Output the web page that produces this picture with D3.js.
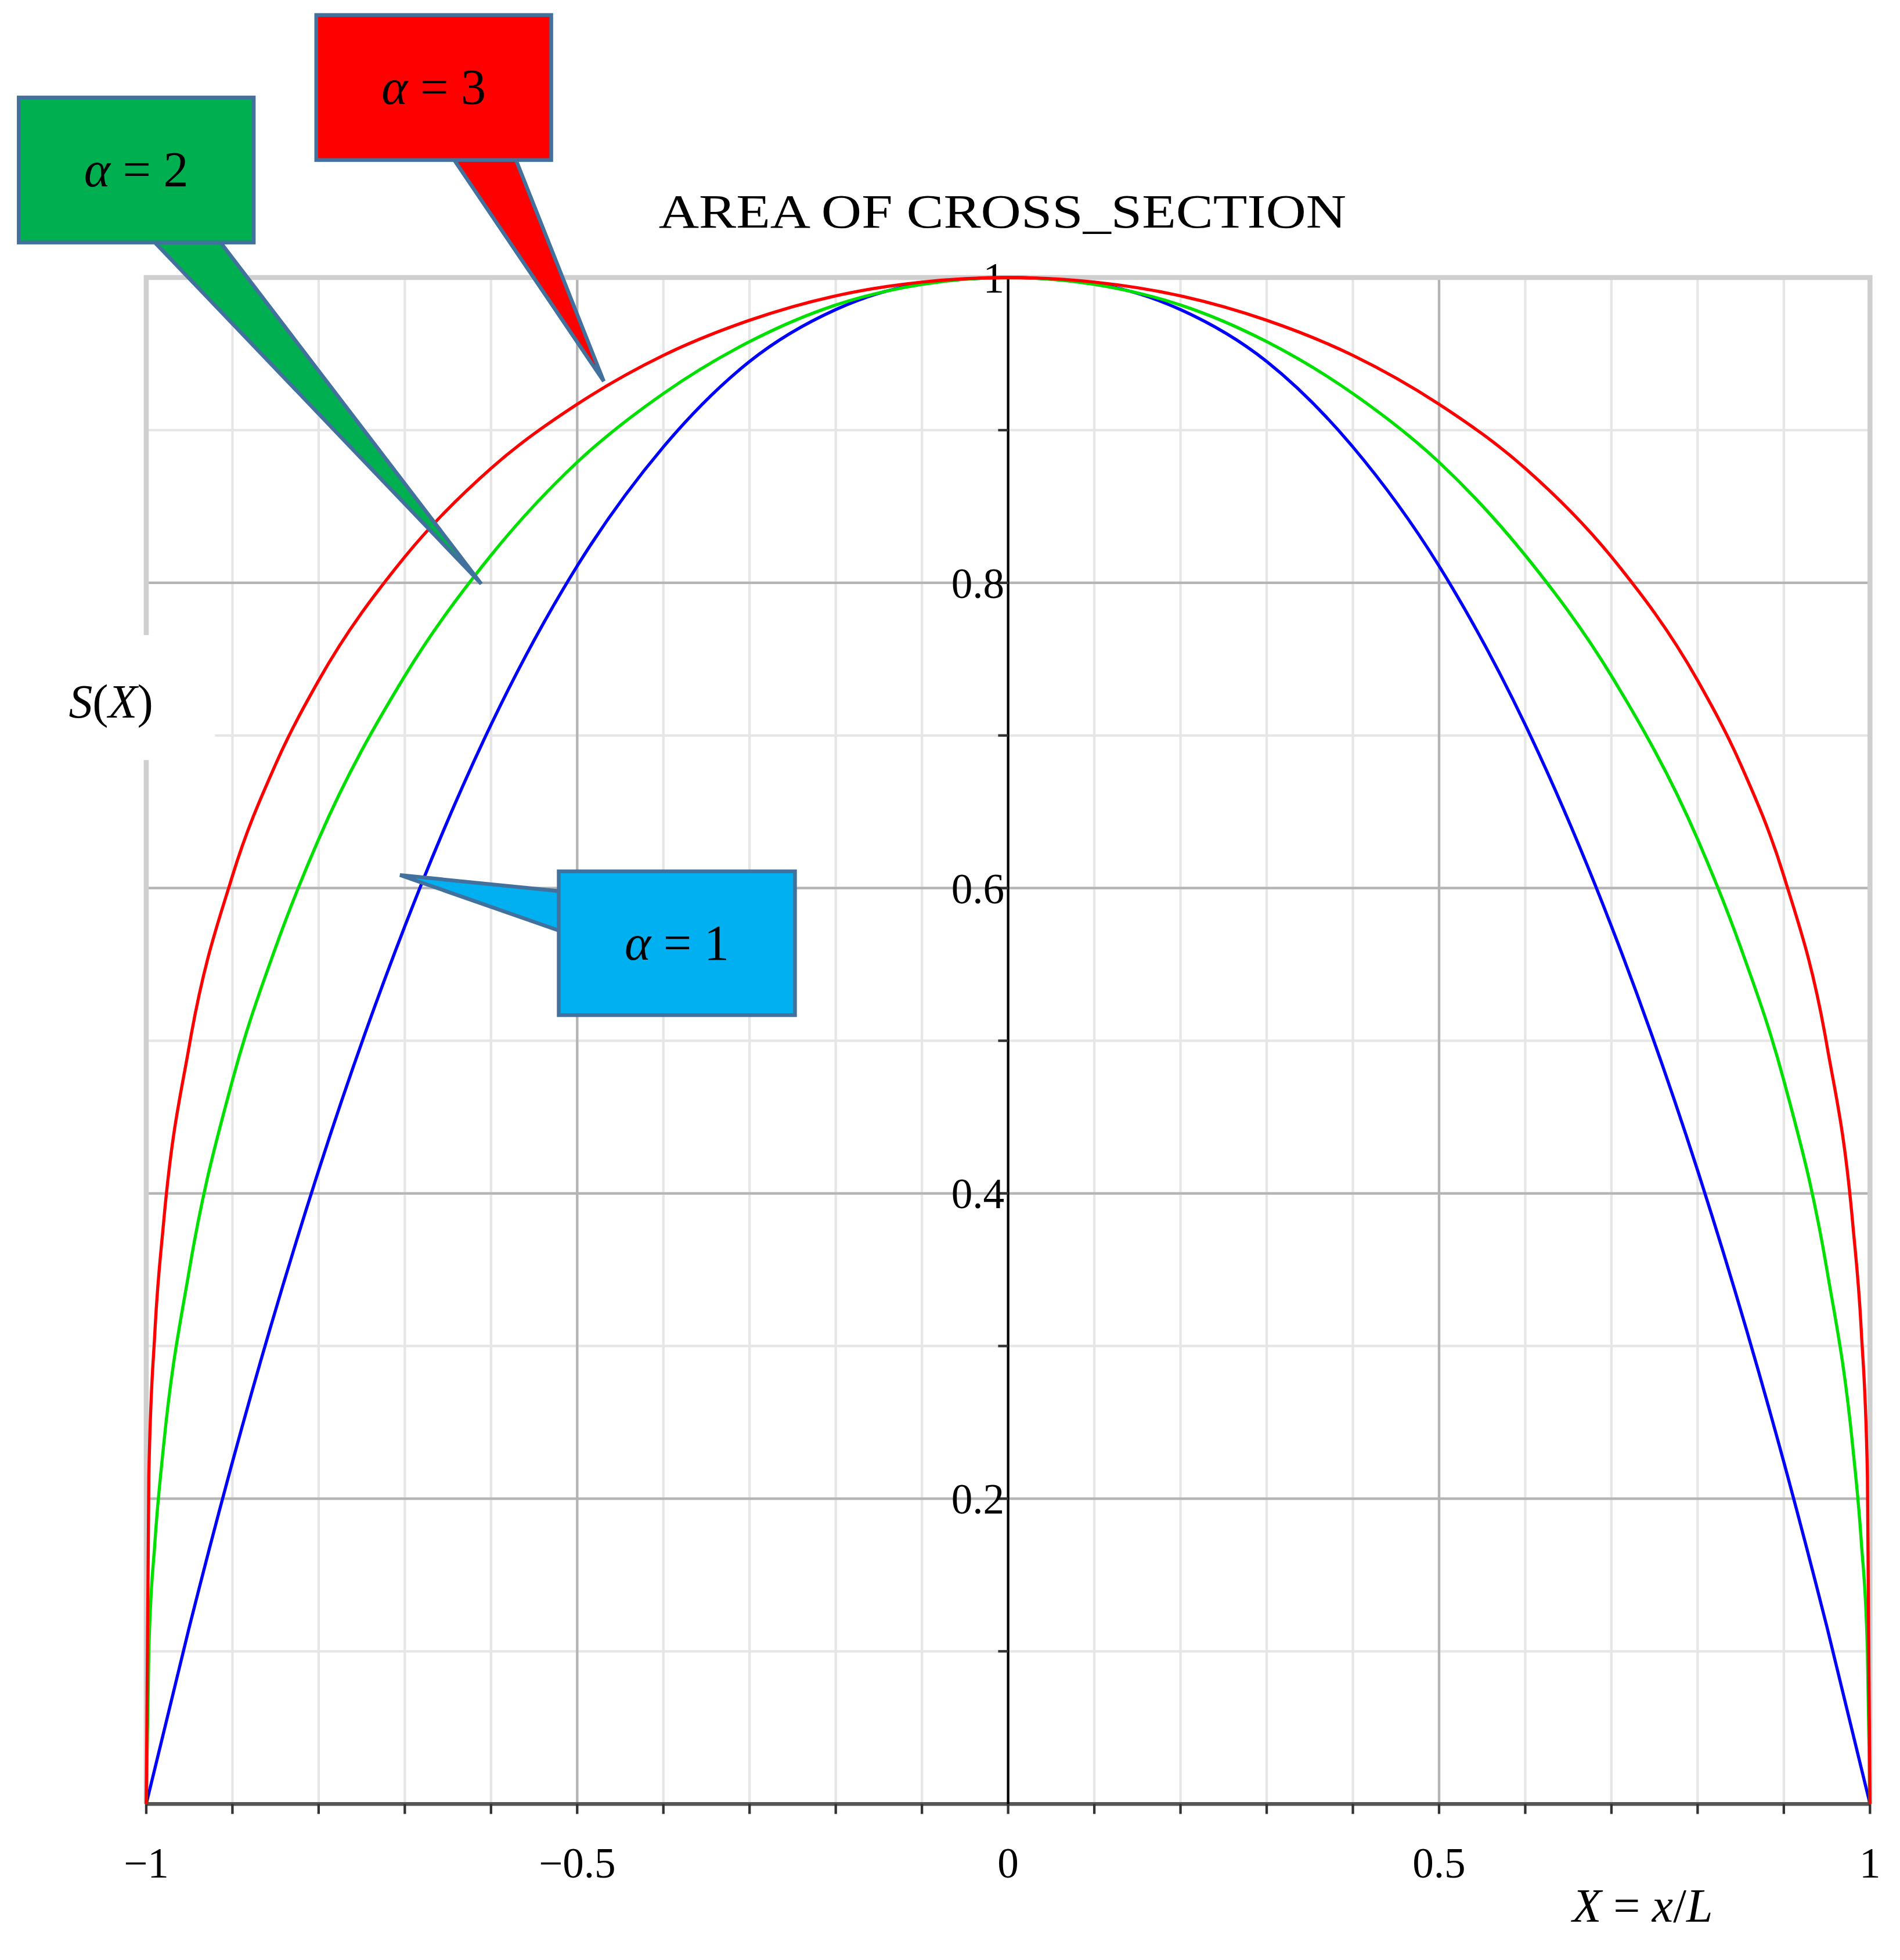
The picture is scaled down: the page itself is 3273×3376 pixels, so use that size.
<!DOCTYPE html>
<html><head><meta charset="utf-8">
<script src="https://cdn.jsdelivr.net/npm/d3@7"></script>
<style>body{margin:0;background:#fff}</style></head>
<body><svg id="c" width="3273" height="3376"></svg>
<script>
const redX=[-1,-0.997,-0.99,-0.98,-0.95,-0.9,-0.85,-0.8,-0.7,-0.6,-0.5,-0.4,-0.3,-0.2,-0.1,0,0.1,0.2,0.3,0.4,0.5,0.6,0.7,0.8,0.85,0.9,0.95,0.98,0.99,0.997,1];
const redY=[0,0.215,0.309,0.38,0.497,0.608,0.681,0.736,0.817,0.875,0.917,0.949,0.972,0.988,0.997,1,0.997,0.988,0.972,0.949,0.917,0.875,0.817,0.736,0.681,0.608,0.497,0.38,0.309,0.215,0];
const greenX=[-1,-0.997,-0.99,-0.98,-0.95,-0.9,-0.85,-0.8,-0.7,-0.6,-0.5,-0.4,-0.3,-0.2,-0.1,0,0.1,0.2,0.3,0.4,0.5,0.6,0.7,0.8,0.85,0.9,0.95,0.98,0.99,0.997,1];
const greenY=[0,0.1,0.171,0.234,0.35,0.474,0.561,0.632,0.739,0.818,0.879,0.924,0.958,0.982,0.9955,1,0.9955,0.982,0.958,0.924,0.879,0.818,0.739,0.632,0.561,0.474,0.35,0.234,0.171,0.1,0];
const blueX=[-1,-0.95,-0.9,-0.8,-0.7,-0.6,-0.5,-0.4,-0.3,-0.2,-0.1,0,0.1,0.2,0.3,0.4,0.5,0.6,0.7,0.8,0.9,0.95,1];
const blueY=[0,0.116,0.224,0.415,0.575,0.707,0.811,0.889,0.945,0.979,0.996,1,0.996,0.979,0.945,0.889,0.811,0.707,0.575,0.415,0.224,0.116,0];
const yTicks=[0.2,0.4,0.6,0.8,1];
const xTicks=[-1,-0.5,0,0.5,1];
const xLabels=["\u22121","\u22120.5","0","0.5","1"];

const S=3273/1520;
const svg=d3.select("#c");
const g=svg.append("g").attr("transform",`scale(${S})`);
const x=d3.scaleLinear().domain([-1,1]).range([117,1496]);
const y=d3.scaleLinear().domain([0,1]).range([1443,222]);
const serif="'Liberation Serif','Times New Roman',serif";

d3.range(-1,1.001,0.1).forEach(v=>g.append("line").attr("x1",x(v)).attr("x2",x(v)).attr("y1",y(0)).attr("y2",y(1)).attr("stroke","#e6e6e6").attr("stroke-width",2));
d3.range(0.1,1.001,0.1).forEach(v=>g.append("line").attr("x1",x(-1)).attr("x2",x(1)).attr("y1",y(v)).attr("y2",y(v)).attr("stroke","#e6e6e6").attr("stroke-width",2));
[-0.5,0.5].forEach(v=>g.append("line").attr("x1",x(v)).attr("x2",x(v)).attr("y1",y(0)).attr("y2",y(1)).attr("stroke","#b4b4b4").attr("stroke-width",2));
yTicks.forEach(v=>g.append("line").attr("x1",x(-1)).attr("x2",x(1)).attr("y1",y(v)).attr("y2",y(v)).attr("stroke","#b4b4b4").attr("stroke-width",2));
g.append("path").attr("d",`M${x(-1)},${y(0)}V${y(1)}H${x(1)}V${y(0)}`).attr("fill","none").attr("stroke","#cfcfcf").attr("stroke-width",4);
g.append("line").attr("x1",x(-1)).attr("x2",x(1)).attr("y1",y(0)).attr("y2",y(0)).attr("stroke","#555").attr("stroke-width",3);
d3.range(-1,1.001,0.1).forEach(v=>g.append("line").attr("x1",x(v)).attr("x2",x(v)).attr("y1",y(0)).attr("y2",y(0)+8).attr("stroke","#333").attr("stroke-width",2));
xTicks.forEach((v,i)=>g.append("text").attr("x",x(v)).attr("y",1502).attr("text-anchor","middle").attr("font-family",serif).attr("font-size",34).text(xLabels[i]));
g.append("line").attr("x1",x(0)).attr("x2",x(0)).attr("y1",y(0)).attr("y2",y(1)).attr("stroke","#000").attr("stroke-width",2);
d3.range(0.1,1.001,0.1).forEach(v=>g.append("line").attr("x1",x(0)-8).attr("x2",x(0)).attr("y1",y(v)).attr("y2",y(v)).attr("stroke","#333").attr("stroke-width",2));
yTicks.forEach(v=>g.append("text").attr("x",x(0)-3).attr("y",y(v)+12).attr("text-anchor","end").attr("font-family",serif).attr("font-size",34).text(String(v)));

const line=d3.line().x(d=>x(d[0])).y(d=>y(d[1])).curve(d3.curveMonotoneX);
[[blueX,blueY,"#0000ff"],[greenX,greenY,"#00e000"],[redX,redY,"#ff0000"]].forEach(([xs,ys,c])=>
 g.append("path").attr("d",line(xs.map((v,i)=>[v,ys[i]]))).attr("fill","none").attr("stroke",c).attr("stroke-width",2.5));

g.append("text").attr("x",527).attr("y",182).attr("textLength",550).attr("lengthAdjust","spacingAndGlyphs").attr("font-family",serif).attr("font-size",38).text("AREA  OF CROSS_SECTION");
g.append("rect").attr("x",40).attr("y",508).attr("width",132).attr("height",100).attr("fill","#fff");
const sx=g.append("text").attr("x",55).attr("y",574).attr("font-family",serif).attr("font-size",38);
sx.append("tspan").attr("font-style","italic").text("S");sx.append("tspan").text("(");sx.append("tspan").attr("font-style","italic").text("X");sx.append("tspan").text(")");
const xl=g.append("text").attr("x",1258).attr("y",1537).attr("font-family",serif).attr("font-size",38).attr("xml:space","preserve");
xl.append("tspan").attr("font-style","italic").text("X");xl.append("tspan").text(" = ");xl.append("tspan").attr("font-style","italic").text("x");xl.append("tspan").text("/");xl.append("tspan").attr("font-style","italic").text("L");

function callout(bx,by,w,h,tail,fill,num){
  g.append("polygon").attr("points",tail.map(p=>p.join(",")).join(" ")).attr("fill",fill).attr("stroke","#41719c").attr("stroke-width",3);
  g.append("rect").attr("x",bx).attr("y",by).attr("width",w).attr("height",h).attr("fill",fill).attr("stroke","#41719c").attr("stroke-width",3);
  const t=g.append("text").attr("x",bx+w/2).attr("y",by+h/2+13).attr("text-anchor","middle").attr("font-family",serif).attr("font-size",40);
  t.append("tspan").attr("font-style","italic").text("\u03b1");t.append("tspan").text(" = "+num);
}
callout(253,12,188,116,[[362,126],[412,126],[483,305]],"#ff0000","3");
callout(15,78,188,116,[[122,192],[175,192],[385,467]],"#00b050","2");
callout(447,697,189,115,[[449,713],[449,745],[320,700]],"#00b0f0","1");
</script></body></html>
